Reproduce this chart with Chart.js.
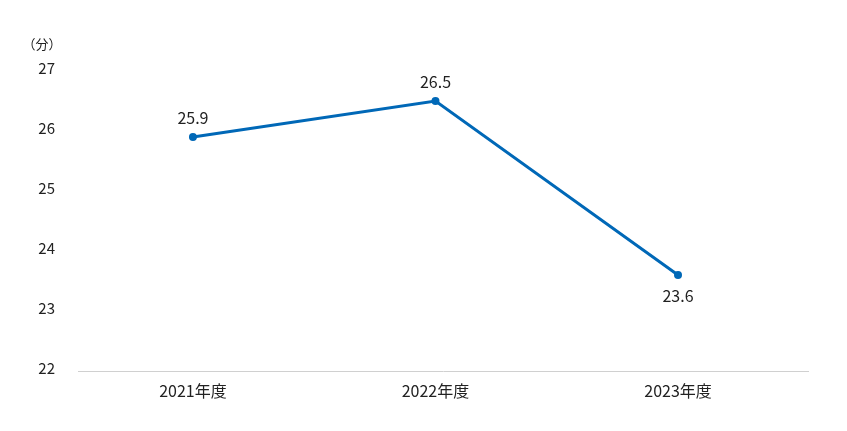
<!DOCTYPE html>
<html lang="ja">
<head>
<meta charset="utf-8">
<style>
  html, body { margin: 0; padding: 0; background: #fff; }
  #wrap { width: 847px; height: 431px; position: relative; }
</style>
<script src="https://cdn.jsdelivr.net/npm/chart.js@4/dist/chart.umd.min.js"></script>
</head>
<body>
<div id="wrap"><canvas id="timeChart"></canvas></div>
<script>
const categories = ['2021年度', '2022年度', '2023年度'];
const minutes = [25.9, 26.5, 23.6];
const labelAbove = [true, true, false];
const unitLabel = '（分）';
const yMin = 22;
const yMax = 27;

const fontFamily = '"Noto Sans CJK JP", "Noto Sans", sans-serif';

// draws the value labels and the unit text
const valueLabels = {
    id: 'valueLabels',
    afterDatasetsDraw(chart) {
        const ctx = chart.ctx;
        const meta = chart.getDatasetMeta(0);
        ctx.save();
        ctx.fillStyle = '#222';
        ctx.font = '16px ' + fontFamily;
        ctx.textAlign = 'center';
        ctx.textBaseline = 'middle';
        meta.data.forEach((pt, i) => {
            const dy = labelAbove[i] ? -19 : 21;
            ctx.fillText(minutes[i].toFixed(1), pt.x, pt.y + dy);
        });
        ctx.font = '13px ' + fontFamily;
        ctx.fillText(unitLabel, 42, 44);
        ctx.restore();
    }
};

new Chart(document.getElementById('timeChart'), {
    type: 'line',
    data: {
        datasets: [{
            data: minutes.map((v, i) => ({ x: i, y: v })),
            borderColor: '#0068b7',
            backgroundColor: '#0068b7',
            borderWidth: 3,
            pointRadius: 2.5,
            pointHoverRadius: 2.5,
            tension: 0
        }]
    },
    options: {
        responsive: true,
        maintainAspectRatio: false,
        animation: false,
        layout: {
            padding: { left: 0, right: 39, top: 71, bottom: 0 }
        },
        scales: {
            x: {
                type: 'linear',
                min: -0.474,
                max: 2.536,
                grid: { display: false, drawTicks: false },
                border: { display: true, color: '#d0d0d0', width: 1 },
                ticks: {
                    stepSize: 1,
                    includeBounds: false,
                    autoSkip: false,
                    maxRotation: 0,
                    color: '#222',
                    padding: 10,
                    font: { family: fontFamily, size: 16 },
                    callback: value => categories[value]
                },
                afterFit: scale => { scale.height = 60; }
            },
            y: {
                min: yMin,
                max: yMax,
                grid: { display: false, drawTicks: false },
                border: { display: false },
                ticks: {
                    stepSize: 1,
                    color: '#222',
                    padding: 23,
                    labelOffset: -3,
                    font: { family: fontFamily, size: 15 }
                },
                afterFit: scale => { scale.width = 78; }
            }
        },
        plugins: {
            legend: { display: false },
            tooltip: { enabled: false }
        }
    },
    plugins: [valueLabels]
});
</script>
</body>
</html>
